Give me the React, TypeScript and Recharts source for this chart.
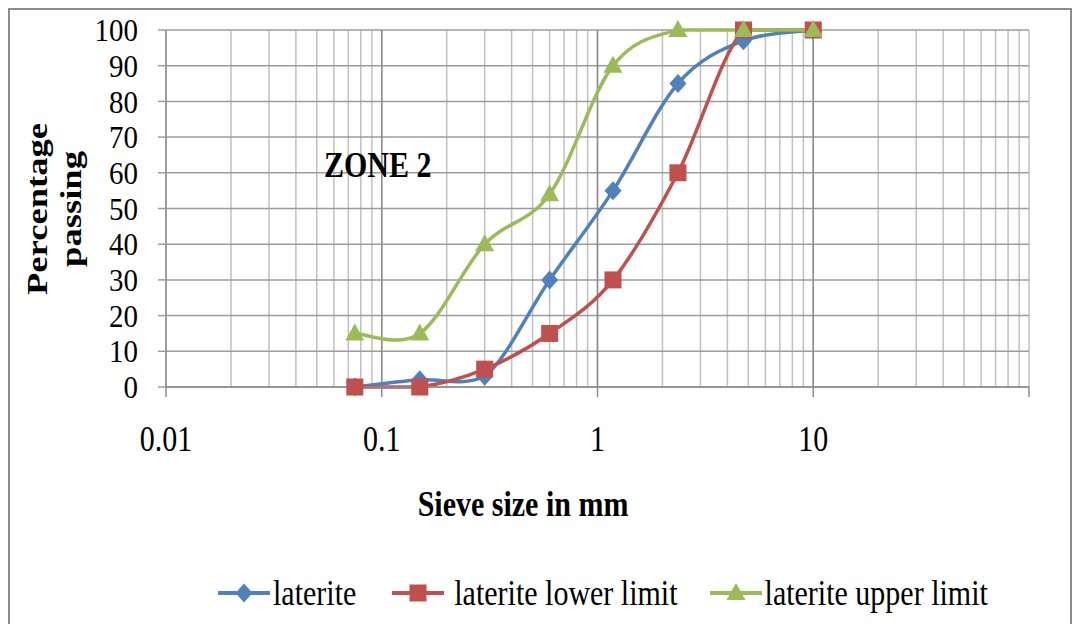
import { LineChart, Line, XAxis, YAxis, CartesianGrid, ReferenceLine, ReferenceDot } from "recharts";

// sieve analysis, zone 2 grading limits
const sieveSizes = [0.075, 0.15, 0.3, 0.6, 1.18, 2.36, 4.75, 10];
const laterite = [0, 2, 3, 30, 55, 85, 97, 100];
const lowerLimit = [0, 0, 5, 15, 30, 60, 100, 100];
const upperLimit = [15, 15, 40, 54, 90, 100, 100, 100];

const yTicks = [0, 10, 20, 30, 40, 50, 60, 70, 80, 90, 100];
const xLabelTicks = [0.01, 0.1, 1, 10];
const darkGridLines = [0.1, 1, 10];
const legendNames = ["laterite", "laterite lower limit", "laterite upper limit"];

// log gridlines 1..9 in every decade
const gridTicks = [...xLabelTicks.flatMap((d) => [1, 2, 3, 4, 5, 6, 7, 8, 9].map((k) => k * d)), 100];

const rows = sieveSizes.map((size, i) => ({
  size,
  laterite: laterite[i],
  lower: lowerLimit[i],
  upper: upperLimit[i],
}));

const BLUE = "#4F81BD";
const RED = "#C0504D";
const GREEN = "#9BBB59";
const FONT = '"Liberation Serif", "Times New Roman", serif';
const SY = 1.22;

const W = 1064;
const H = 620;
const PLOT_TOP = 22;
const PLOT_BOTTOM = 379;

// Excel-like smoothing (Catmull-Rom, 1/6 tension), control points kept inside the plot
const excelSmooth = (context: any) => {
  let pts: number[][] = [];
  const clamp = (v: number) => Math.max(PLOT_TOP, Math.min(PLOT_BOTTOM, v));
  return {
    areaStart() {},
    areaEnd() {},
    lineStart() {
      pts = [];
    },
    point(x: number, y: number) {
      pts.push([+x, +y]);
    },
    lineEnd() {
      const n = pts.length;
      if (!n) return;
      context.moveTo(pts[0][0], pts[0][1]);
      for (let i = 0; i < n - 1; i++) {
        const p0 = pts[Math.max(i - 1, 0)];
        const p1 = pts[i];
        const p2 = pts[i + 1];
        const p3 = pts[Math.min(i + 2, n - 1)];
        context.bezierCurveTo(
          p1[0] + (p2[0] - p0[0]) / 6,
          clamp(p1[1] + (p2[1] - p0[1]) / 6),
          p2[0] - (p3[0] - p1[0]) / 6,
          clamp(p2[1] - (p3[1] - p1[1]) / 6),
          p2[0],
          p2[1]
        );
      }
    },
  };
};

const StretchText = ({ x, y, text, anchor = "middle", bold = false, rotate = false, size = 30, sy = SY }: any) => (
  <g transform={`translate(${x},${y}) scale(1,${sy})${rotate ? " rotate(-90)" : ""}`}>
    <text
      x={0}
      y={0}
      dy="0.35em"
      textAnchor={anchor}
      fontFamily={FONT}
      fontSize={size}
      fontWeight={bold ? "bold" : "normal"}
      fill="#000"
    >
      {text}
    </text>
  </g>
);

const Diamond = ({ cx, cy, color = BLUE }: any) =>
  cx == null ? null : <path d={`M${cx},${cy - 9.5}L${cx + 8.5},${cy}L${cx},${cy + 9.5}L${cx - 8.5},${cy}Z`} fill={color} />;
const Square = ({ cx, cy, color = RED }: any) =>
  cx == null ? null : <rect x={cx - 8.5} y={cy - 8.5} width={17} height={17} fill={color} />;
const Triangle = ({ cx, cy, color = GREEN }: any) =>
  cx == null ? null : <path d={`M${cx},${cy - 10}L${cx + 9.5},${cy + 7}L${cx - 9.5},${cy + 7}Z`} fill={color} />;

const XTick = ({ x, y, payload }: any) => {
  const v = payload.value;
  const lg = Math.log10(v);
  const isDecade = Math.abs(lg - Math.round(lg)) < 1e-9;
  if (!isDecade) return <g />;
  const showLabel = xLabelTicks.some((t) => Math.abs(t - v) < 1e-12);
  return (
    <g>
      <line x1={x} x2={x} y1={y} y2={y + 10} stroke="#8c8c8c" strokeWidth={1.5} />
      {showLabel && <StretchText x={x} y={y + 51} text={String(v)} />}
    </g>
  );
};

const YTick = ({ x, y, payload }: any) => (
  <StretchText x={x} y={y} text={String(payload.value)} anchor="end" size={29} sy={1.1} />
);

const legendMarkers = [Diamond, Square, Triangle];
const legendColors = [BLUE, RED, GREEN];

export default function App() {
  return (
    <div style={{ position: "relative", width: W, height: H, outline: "2px solid #8c8c8c", outlineOffset: -2, background: "#fff" }}>
      <LineChart width={W} height={H} data={rows} margin={{ top: PLOT_TOP, right: 43, left: 0, bottom: 121 }}>
        <CartesianGrid horizontal={false} vertical stroke="#c0c0c0" strokeWidth={1.5} />
        <CartesianGrid horizontal vertical={false} stroke="#9c9c9c" strokeWidth={1.5} />
        {darkGridLines.map((v) => (
          <ReferenceLine key={v} x={v} stroke="#8c8c8c" strokeWidth={1.5} />
        ))}
        <XAxis
          dataKey="size"
          type="number"
          scale="log"
          domain={[0.01, 100]}
          ticks={gridTicks}
          interval={0}
          allowDataOverflow
          height={120}
          tickLine={false}
          tickSize={0}
          tickMargin={0}
          axisLine={{ stroke: "#8c8c8c", strokeWidth: 1.5 }}
          tick={<XTick />}
          label={{ content: () => <StretchText x={515} y={495} text="Sieve size in mm" bold /> }}
        />
        <YAxis
          type="number"
          domain={[0, 100]}
          ticks={yTicks}
          interval={0}
          width={158}
          tickSize={8}
          tickMargin={20}
          tickLine={{ stroke: "#9c9c9c", strokeWidth: 1.5 }}
          axisLine={{ stroke: "#8c8c8c", strokeWidth: 1.5 }}
          tick={<YTick />}
          label={{
            content: () => (
              <g>
                <StretchText x={28} y={201} text="Percentage" bold rotate />
                <StretchText x={62} y={201} text="passing" bold rotate />
              </g>
            ),
          }}
        />
        <ReferenceDot
          x={0.1}
          y={62.5}
          r={0}
          stroke="none"
          fill="none"
          label={{ content: (p: any) => <StretchText x={p.viewBox.x - 4} y={p.viewBox.y} text="ZONE 2" bold /> }}
        />
        <Line
          dataKey="laterite"
          name={legendNames[0]}
          type={excelSmooth as any}
          stroke={BLUE}
          strokeWidth={3.5}
          dot={(p: any) => <Diamond key={`d${p.index}`} cx={p.cx} cy={p.cy} />}
          activeDot={false}
          isAnimationActive={false}
        />
        <Line
          dataKey="lower"
          name={legendNames[1]}
          type={excelSmooth as any}
          stroke={RED}
          strokeWidth={3.5}
          dot={(p: any) => <Square key={`s${p.index}`} cx={p.cx} cy={p.cy} />}
          activeDot={false}
          isAnimationActive={false}
        />
        <Line
          dataKey="upper"
          name={legendNames[2]}
          type={excelSmooth as any}
          stroke={GREEN}
          strokeWidth={3.5}
          dot={(p: any) => <Triangle key={`t${p.index}`} cx={p.cx} cy={p.cy} />}
          activeDot={false}
          isAnimationActive={false}
        />
      </LineChart>
      <div
        style={{
          position: "absolute",
          left: 210,
          top: 570,
          height: 30,
          display: "flex",
          alignItems: "center",
          fontFamily: FONT,
          fontSize: 30,
          lineHeight: 1,
        }}
      >
        {legendNames.map((name, i) => {
          const Marker = legendMarkers[i];
          return (
            <div key={name} style={{ display: "flex", alignItems: "center", marginRight: i === 0 ? 36 : 32 }}>
              <svg width={52} height={22}>
                <line x1={0} x2={52} y1={11} y2={11} stroke={legendColors[i]} strokeWidth={4} />
                <Marker cx={26} cy={11} />
              </svg>
              <span style={{ display: "inline-block", marginLeft: i === 1 ? 10 : 3, transform: `scaleY(${SY})` }}>{name}</span>
            </div>
          );
        })}
      </div>
    </div>
  );
}
